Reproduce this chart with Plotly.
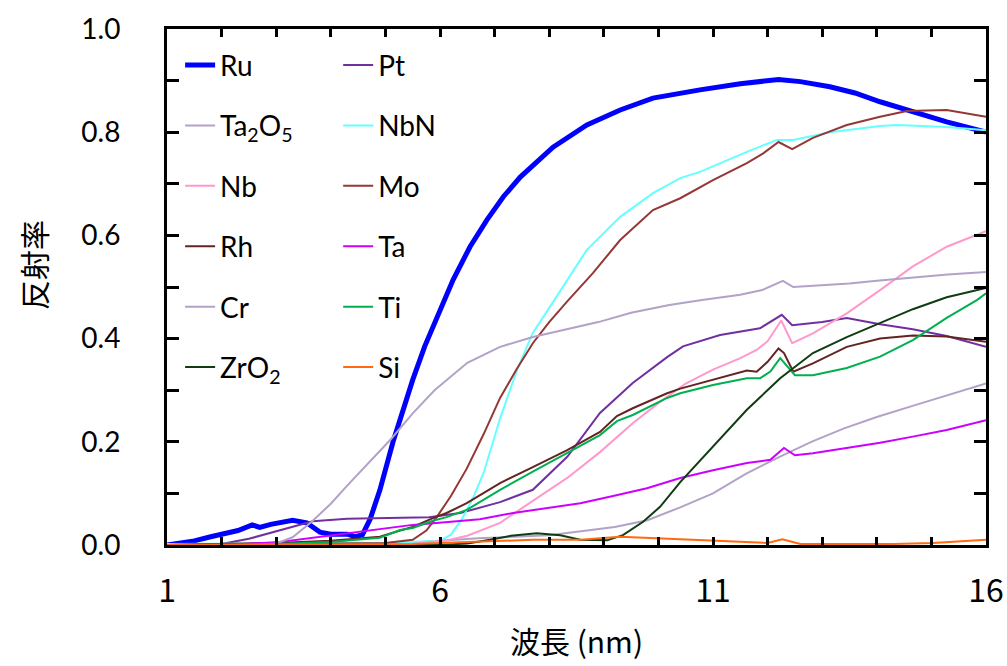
import plotly.graph_objects as go

# ---- reflectance spectra (wavelength in nm, reflectance 0-1) ----
RU_X = [1.0, 1.25, 1.5, 1.8, 2.1, 2.3, 2.56, 2.7, 2.9, 3.1, 3.3, 3.56, 3.8, 4.0, 4.3, 4.45, 4.58,
        4.72, 4.9, 5.14, 5.3, 5.5, 5.72, 5.94, 6.24, 6.55, 6.86, 7.16, 7.47, 8.07, 8.69, 9.3, 9.9,
        10.76, 11.5, 12.2, 12.6, 13.14, 13.6, 14.06, 14.66, 15.28, 16.0]
RU_Y = [0.0, 0.004, 0.008, 0.016, 0.023, 0.028, 0.039, 0.034, 0.04, 0.045, 0.048, 0.043, 0.025,
        0.021, 0.021, 0.016, 0.02, 0.05, 0.107, 0.2, 0.255, 0.32, 0.385, 0.442, 0.514, 0.578,
        0.63, 0.675, 0.713, 0.771, 0.814, 0.843, 0.866, 0.882, 0.894, 0.902, 0.898, 0.888,
        0.876, 0.859, 0.839, 0.82, 0.80]

PT_X = [1.0, 2.0, 2.5, 3.07, 3.67, 4.3, 5.0, 5.8, 6.37, 7.1, 7.7, 8.33, 8.93, 9.53, 10.16, 10.45,
        11.13, 11.86, 12.26, 12.45, 13.0, 13.45, 14.06, 14.66, 15.28, 16.0]
PT_Y = [0.0, 0.002, 0.012, 0.029, 0.046, 0.051, 0.053, 0.054, 0.062, 0.083, 0.107, 0.171, 0.256,
        0.314, 0.364, 0.385, 0.407, 0.42, 0.446, 0.426, 0.432, 0.44, 0.428, 0.418, 0.405, 0.384]

TA2O5_X = [1.0, 4.5, 5.5, 6.7, 8.0, 9.2, 9.8, 10.4, 11.0, 11.6, 12.2, 12.8, 13.4, 14.0, 14.7,
           15.3, 16.0]
TA2O5_Y = [0.0, 0.001, 0.005, 0.013, 0.019, 0.035, 0.048, 0.073, 0.1, 0.138, 0.17, 0.2, 0.226,
           0.248, 0.271, 0.29, 0.313]

NBN_X = [1.0, 5.0, 6.0, 6.2, 6.4, 6.6, 6.8, 7.1, 7.41, 7.7, 8.01, 8.38, 8.69, 9.3, 9.9, 10.4,
         10.76, 11.62, 12.17, 12.47, 13.14, 14.06, 14.37, 15.28, 16.0]
NBN_Y = [0.002, 0.004, 0.008, 0.02, 0.05, 0.09, 0.14, 0.245, 0.339, 0.411, 0.461, 0.522, 0.572,
         0.636, 0.682, 0.711, 0.723, 0.762, 0.785, 0.785, 0.80, 0.812, 0.814, 0.81, 0.804]

NB_X = [1.0, 5.5, 6.18, 6.5, 7.1, 7.7, 8.33, 8.93, 9.53, 10.0, 10.5, 11.0, 11.5, 11.8, 12.0,
        12.25, 12.45, 12.83, 13.45, 14.06, 14.66, 15.28, 16.0]
NB_Y = [0.0, 0.002, 0.01, 0.018, 0.043, 0.085, 0.13, 0.18, 0.236, 0.275, 0.313, 0.34, 0.362,
        0.378, 0.395, 0.435, 0.391, 0.41, 0.449, 0.494, 0.54, 0.578, 0.608]

MO_X = [1.0, 4.0, 5.0, 5.5, 5.75, 5.94, 6.2, 6.49, 6.8, 7.1, 7.4, 7.7, 8.0, 8.33, 8.8, 9.3, 9.9,
        10.4, 11.0, 11.62, 11.92, 12.2, 12.45, 12.83, 13.45, 14.06, 14.55, 15.28, 16.0]
MO_Y = [0.0, 0.002, 0.004, 0.01, 0.028, 0.054, 0.095, 0.148, 0.215, 0.285, 0.34, 0.391, 0.432,
        0.472, 0.527, 0.591, 0.649, 0.672, 0.707, 0.74, 0.759, 0.781, 0.767, 0.789, 0.814, 0.83,
        0.841, 0.843, 0.83]

RH_X = [1.0, 2.0, 3.0, 4.0, 4.9, 5.27, 5.5, 5.87, 6.12, 6.49, 7.1, 7.7, 8.33, 8.93, 9.24, 9.53,
        10.16, 10.4, 11.0, 11.62, 11.8, 12.0, 12.2, 12.3, 12.47, 12.83, 13.45, 14.06, 14.66,
        15.28, 16.0]
RH_Y = [0.0, 0.002, 0.004, 0.008, 0.016, 0.028, 0.035, 0.052, 0.062, 0.081, 0.12, 0.151, 0.184,
        0.219, 0.25, 0.265, 0.294, 0.303, 0.32, 0.338, 0.336, 0.355, 0.381, 0.372, 0.336, 0.352,
        0.384, 0.4, 0.406, 0.404, 0.394]

TA_X = [1.0, 2.3, 3.07, 4.3, 5.5, 6.2, 6.73, 7.34, 7.96, 8.57, 9.17, 9.79, 10.4, 11.0, 11.62,
        12.05, 12.3, 12.5, 12.83, 13.45, 14.06, 14.66, 15.28, 16.0]
TA_Y = [0.0, 0.001, 0.006, 0.023, 0.039, 0.045, 0.05, 0.062, 0.072, 0.081, 0.095, 0.11, 0.13,
        0.145, 0.159, 0.165, 0.188, 0.174, 0.178, 0.188, 0.198, 0.21, 0.223, 0.242]

CR_X = [1.0, 2.5, 3.0, 3.3, 3.65, 4.0, 4.3, 4.7, 5.1, 5.5, 5.9, 6.5, 7.1, 7.7, 8.3, 8.9, 9.5,
        10.2, 10.8, 11.5, 11.9, 12.28, 12.47, 13.0, 13.5, 14.0, 14.7, 15.3, 16.0]
CR_Y = [0.0, 0.0, 0.003, 0.015, 0.045, 0.08, 0.115, 0.16, 0.205, 0.255, 0.30, 0.353, 0.384,
        0.403, 0.417, 0.432, 0.45, 0.465, 0.475, 0.485, 0.494, 0.512, 0.5, 0.503, 0.507, 0.512,
        0.519, 0.524, 0.529]

TI_X = [1.0, 3.0, 4.0, 4.9, 5.27, 5.5, 5.87, 6.12, 6.49, 7.1, 7.7, 8.33, 8.93, 9.24, 9.53,
        10.16, 10.4, 11.0, 11.62, 11.86, 12.05, 12.23, 12.5, 12.83, 13.45, 14.06, 14.66, 15.28,
        15.84, 16.0]
TI_Y = [0.0, 0.002, 0.006, 0.014, 0.029, 0.033, 0.047, 0.054, 0.068, 0.107, 0.142, 0.178, 0.213,
        0.24, 0.252, 0.285, 0.294, 0.31, 0.323, 0.323, 0.336, 0.362, 0.329, 0.329, 0.343, 0.365,
        0.397, 0.44, 0.475, 0.488]

ZRO2_X = [1.0, 6.0, 6.5, 6.92, 7.3, 7.77, 8.2, 8.57, 9.06, 9.35, 9.72, 10.03, 10.4, 11.0, 11.62,
          12.23, 12.83, 13.45, 14.06, 14.66, 15.28, 16.0]
ZRO2_Y = [0.0, 0.0, 0.003, 0.01, 0.018, 0.023, 0.019, 0.01, 0.009, 0.019, 0.045, 0.074, 0.122,
          0.19, 0.262, 0.323, 0.372, 0.403, 0.43, 0.457, 0.48, 0.498]

SI_X = [1.0, 4.0, 5.5, 6.0, 6.73, 7.7, 8.57, 9.3, 10.4, 11.13, 12.0, 12.27, 12.6, 14.3, 15.03,
        16.0]
SI_Y = [0.0, 0.001, 0.002, 0.004, 0.006, 0.01, 0.01, 0.016, 0.011, 0.008, 0.004, 0.011, 0.002,
        0.002, 0.004, 0.01]

# name, x, y, colour, width, legend column
SERIES = [
    ("Ru", RU_X, RU_Y, "#0000ff", 5, "legend"),
    ("Pt", PT_X, PT_Y, "#7030a0", 2, "legend2"),
    ("Ta<sub>2</sub>O<sub>5</sub>", TA2O5_X, TA2O5_Y, "#b3a2c7", 2, "legend"),
    ("NbN", NBN_X, NBN_Y, "#66ffff", 2, "legend2"),
    ("Nb", NB_X, NB_Y, "#ff99cc", 2, "legend"),
    ("Mo", MO_X, MO_Y, "#953735", 2, "legend2"),
    ("Rh", RH_X, RH_Y, "#632523", 2, "legend"),
    ("Ta", TA_X, TA_Y, "#cc00ff", 2, "legend2"),
    ("Cr", CR_X, CR_Y, "#b3a2c7", 2, "legend"),
    ("Ti", TI_X, TI_Y, "#00b050", 2, "legend2"),
    ("ZrO<sub>2</sub>", ZRO2_X, ZRO2_Y, "#0f3d12", 2, "legend"),
    ("Si", SI_X, SI_Y, "#ff6a10", 2, "legend2"),
]

X_TICKS = list(range(1, 17))
X_TICKTEXT = [str(v) if (v - 1) % 5 == 0 else "" for v in X_TICKS]
Y_TICKS = [i / 10 for i in range(11)]
Y_TICKTEXT = [f"{v:.1f}" if i % 2 == 0 else "" for i, v in enumerate(Y_TICKS)]

fig = go.Figure()
for i, (name, xs, ys, color, width, leg) in enumerate(SERIES):
    fig.add_trace(go.Scatter(
        x=xs, y=ys, mode="lines", name=name,
        line=dict(color=color, width=width),
        legend=leg, legendgroup=f"g{i}",
    ))

legend_common = dict(
    xanchor="left", yanchor="top", bgcolor="rgba(0,0,0,0)", borderwidth=0,
    font=dict(family="Lato, Open Sans, sans-serif", size=28, color="#000"),
    tracegroupgap=21, itemwidth=30, traceorder="grouped",
)

fig.update_layout(
    width=1007, height=666,
    margin=dict(l=167, r=21, t=29, b=121),
    paper_bgcolor="white", plot_bgcolor="white",
    showlegend=True,
    legend=dict(x=0.016, y=0.978, **legend_common),
    legend2=dict(x=0.209, y=0.978, **legend_common),
    xaxis=dict(
        range=[1, 16], tickmode="array", tickvals=X_TICKS, ticktext=X_TICKTEXT,
        ticks="inside", ticklen=8, tickwidth=2.5, tickcolor="#000",
        showline=True, linecolor="#000", linewidth=3, mirror="ticks",
        showgrid=False, zeroline=False, automargin=False,
        tickfont=dict(family="Liberation Sans Narrow, Noto Sans CJK JP, sans-serif", size=32, color="#000"),
        ticklabelstandoff=16,
        title=dict(text="波長 (nm)", font=dict(family="Noto Sans CJK JP, sans-serif", size=30, color="#000"),
                   standoff=22),
    ),
    yaxis=dict(
        range=[0, 1], tickmode="array", tickvals=Y_TICKS, ticktext=Y_TICKTEXT,
        ticks="inside", ticklen=12, tickwidth=2.5, tickcolor="#000",
        showline=True, linecolor="#000", linewidth=3, mirror="ticks",
        showgrid=False, zeroline=False, automargin=False,
        tickfont=dict(family="Lato, Open Sans, sans-serif", size=28, color="#000"),
        ticklabelstandoff=38,
    ),
    annotations=[dict(
        text="反射率", textangle=-90, showarrow=False,
        xref="paper", yref="paper", x=(33 - 167) / 819, y=(545 - 265) / 516,
        xanchor="center", yanchor="middle",
        font=dict(family="Noto Sans CJK JP, sans-serif", size=30, color="#000"),
    )],
)

fig.write_html("out.html")
